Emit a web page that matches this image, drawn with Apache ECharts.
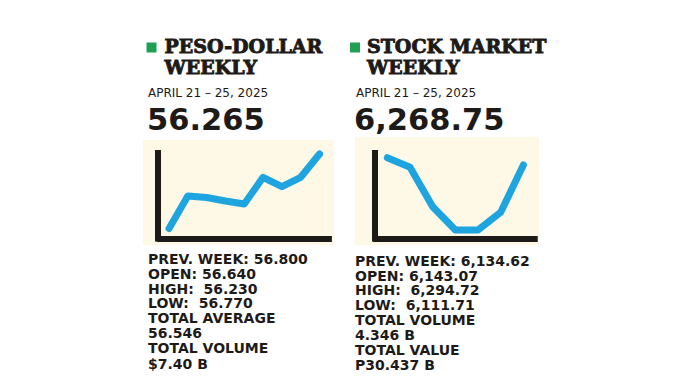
<!DOCTYPE html>
<html>
<head>
<meta charset="utf-8">
<script src="https://cdn.jsdelivr.net/npm/echarts@6/dist/echarts.min.js"></script>
<style>html,body{margin:0;padding:0;background:#fff}#c{width:686px;height:392px}</style>
</head>
<body>
<div id="c"></div>
<script>
// ---- data ----
const pesoTitle = ['PESO-DOLLAR', 'WEEKLY'];
const stockTitle = ['STOCK MARKET', 'WEEKLY'];
const dateRange = 'APRIL 21 – 25, 2025';
const pesoHeadline = '56.265';
const stockHeadline = '6,268.75';
const pesoStats = ['PREV. WEEK: 56.800', 'OPEN: 56.640', 'HIGH:  56.230', 'LOW:  56.770', 'TOTAL AVERAGE', '56.546', 'TOTAL VOLUME', '$7.40 B'];
const stockStats = ['PREV. WEEK: 6,134.62', 'OPEN: 6,143.07', 'HIGH:  6,294.72', 'LOW:  6,111.71', 'TOTAL VOLUME', '4.346 B', 'TOTAL VALUE', 'P30.437 B'];
const pesoSteps = ['1', '2', '3', '4', '5', '6', '7', '8', '9'];
const pesoTrend = [11.7, 49.7, 48, 43.9, 40.4, 71.6, 60.6, 71.6, 98.8];
const stockSteps = ['1', '2', '3', '4', '5', '6', '7'];
const stockTrend = [94.5, 83.3, 37.2, 9.9, 9.9, 30.6, 86];

const chart = echarts.init(document.getElementById('c'), null, {renderer: 'svg', width: 686, height: 392});

const INK = '#1d1a18';
const BLUE = '#1ea4de';
const CREAM = '#fdf9e6';
const GREEN = '#1f9f52';

const graphics = [];
// cream panels
graphics.push({type: 'rect', z: -10, shape: {x: 143, y: 140, width: 191, height: 105}, style: {fill: CREAM}});
graphics.push({type: 'rect', z: -10, shape: {x: 355, y: 137, width: 184, height: 108}, style: {fill: CREAM}});
// green markers
graphics.push({type: 'rect', shape: {x: 146.5, y: 42.5, width: 10, height: 10}, style: {fill: GREEN}});
graphics.push({type: 'rect', shape: {x: 350, y: 42.5, width: 10, height: 10}, style: {fill: GREEN}});

function addText(str, x, y, size, weight, family, extra) {
  const style = Object.assign({text: str, fill: INK, font: weight + ' ' + size + 'px ' + family, textVerticalAlign: 'top'}, extra || {});
  graphics.push({type: 'text', x: x, y: y, style: style});
}
const serif = '"DejaVu Serif"';
const sans = '"DejaVu Sans"';
const heavy = {stroke: INK, lineWidth: 0.9};
// titles
pesoTitle.forEach((t, i) => addText(t, 164.5, 36 + i * 21, 19, 'bold', serif, heavy));
stockTitle.forEach((t, i) => addText(t, 367, 36 + i * 21, 19, 'bold', serif, heavy));
addText(dateRange, 148, 87, 12, 'normal', sans);
addText(dateRange, 356, 87, 12, 'normal', sans);
addText(pesoHeadline, 147, 104, 30.5, 'bold', sans);
addText(stockHeadline, 354, 104, 30.5, 'bold', sans);
const pesoY = [253, 268, 282.5, 297, 312, 327, 342, 358];
const stockY = [254.5, 269.5, 284, 298.5, 313.5, 328.5, 343.5, 358.5];
const statStyle = {lineHeight: 12};
pesoStats.forEach((t, i) => addText(t, 148, pesoY[i], 14, 'bold', sans, statStyle));
stockStats.forEach((t, i) => addText(t, 355, stockY[i], 14, 'bold', sans, statStyle));

const axisLineStyle = {show: true, onZero: false, lineStyle: {color: INK, width: 6, cap: 'square'}};
function xAx(idx, cats) {
  return {type: 'category', gridIndex: idx, data: cats, boundaryGap: true,
    axisLine: axisLineStyle, axisTick: {show: false}, axisLabel: {show: false}, splitLine: {show: false}};
}
function yAx(idx, off) {
  return {type: 'value', gridIndex: idx, min: 0, max: 100, offset: off,
    axisLine: axisLineStyle, axisTick: {show: false}, axisLabel: {show: false}, splitLine: {show: false}};
}
function lineSeries(idx, data) {
  return {type: 'line', xAxisIndex: idx, yAxisIndex: idx, data: data, symbol: 'none', smooth: false,
    lineStyle: {color: BLUE, width: 7, join: 'round', cap: 'round'}, silent: true};
}

chart.setOption({
  animation: false,
  backgroundColor: '#ffffff',
  grid: [
    {left: 159.6, top: 153, width: 169.3, height: 85.5},
    {left: 376, top: 153, width: 158.7, height: 85.5}
  ],
  xAxis: [xAx(0, pesoSteps), xAx(1, stockSteps)],
  yAxis: [yAx(0, 2), yAx(1, 1.5)],
  series: [lineSeries(0, pesoTrend), lineSeries(1, stockTrend)],
  graphic: {elements: graphics}
});
</script>
</body>
</html>
